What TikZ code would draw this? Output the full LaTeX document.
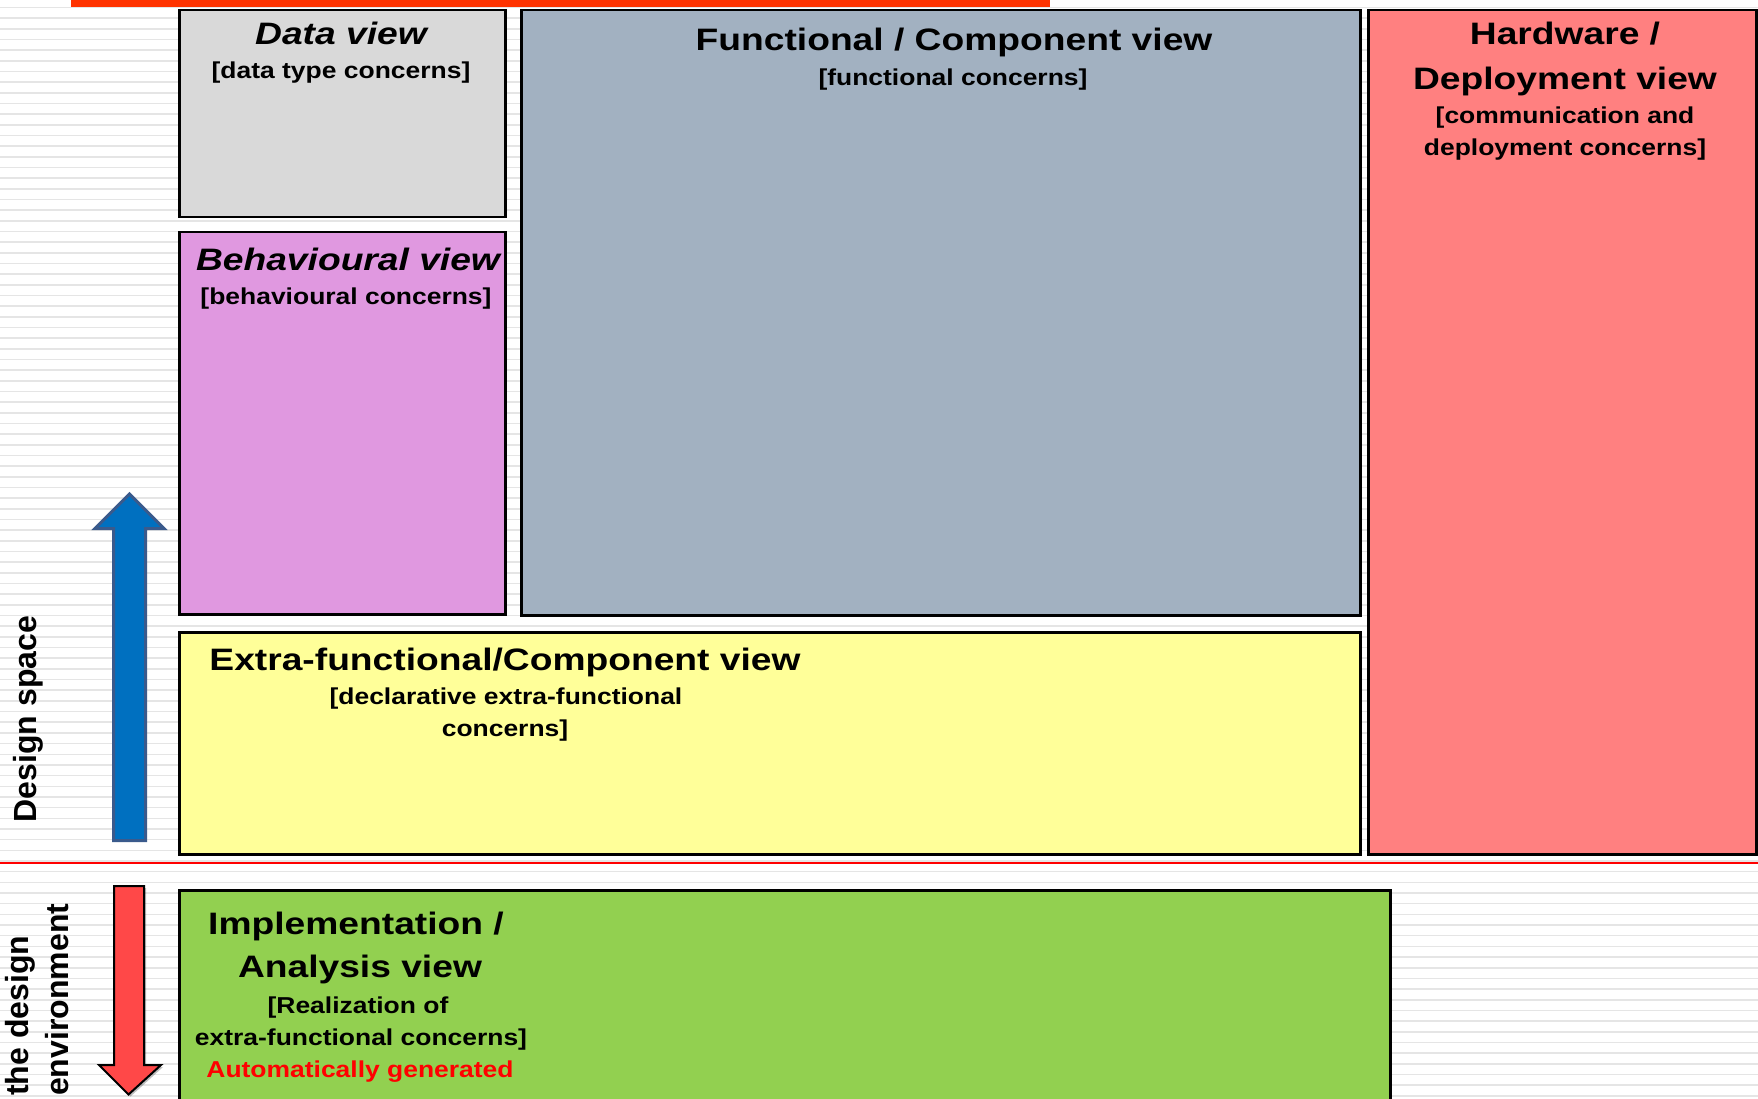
\documentclass[tikz,border=0pt]{standalone}
\usepackage{fontspec}
\setmainfont{Liberation Sans}
\newfontfamily\widesans[FakeStretch=1.2]{Liberation Sans}
\newfontfamily\subsans[FakeStretch=1.15]{Liberation Sans}
\newfontfamily\plainsans{Liberation Sans}

\definecolor{datagray}{RGB}{217,217,217}
\definecolor{behavpink}{RGB}{224,152,224}
\definecolor{funcblue}{RGB}{162,177,193}
\definecolor{hwred}{RGB}{255,128,128}
\definecolor{extrayellow}{RGB}{255,255,153}
\definecolor{implgreen}{RGB}{146,208,80}
\definecolor{topbar}{RGB}{255,51,0}
\definecolor{stripegray}{RGB}{229,229,229}
\definecolor{upblue}{RGB}{0,112,192}
\definecolor{upedge}{RGB}{58,90,140}
\definecolor{downred}{RGB}{255,72,72}

\tikzset{
  viewbox/.style={draw=black, line width=2.5pt, inner sep=0pt, anchor=north west},
  viewtitle/.style={font=\widesans\bfseries\fontsize{31}{37}\selectfont, inner sep=0pt, anchor=base},
  viewititle/.style={font=\widesans\bfseries\itshape\fontsize{31}{37}\selectfont, inner sep=0pt, anchor=base},
  viewsub/.style={font=\subsans\bfseries\fontsize{23}{27}\selectfont, inner sep=0pt, anchor=base},
  sidelabel/.style={font=\plainsans\bfseries\fontsize{32}{38}\selectfont, inner sep=0pt, rotate=90},
}

\begin{document}
\begin{tikzpicture}[x=1pt, y=-1pt]
  \useasboundingbox (0,0) rectangle (1758,1099);
  \clip (0,0) rectangle (1758,1099);

  % striped background
  \fill[white] (0,0) rectangle (1758,1099);
  \foreach \k in {0,...,102}
    \fill[stripegray] (0,{6.6+10.67*\k}) rectangle (1758,{8.2+10.67*\k});

  % accent bar at the top
  \fill[topbar] (71,0) rectangle (1050,7.5);

  % separator between design space and generated views
  \draw[red, line width=2pt] (0,863) -- (1758,863);

  % view boxes
  \node[viewbox, fill=datagray,    minimum width=326pt,  minimum height=207pt] (data)  at (178,9)   {};
  \node[viewbox, fill=behavpink,   minimum width=326pt,  minimum height=382pt] (behav) at (178,231) {};
  \node[viewbox, fill=funcblue,    minimum width=839pt,  minimum height=605pt] (func)  at (520,9)   {};
  \node[viewbox, fill=hwred,       minimum width=388pt,  minimum height=844pt] (hw)    at (1367,9)  {};
  \node[viewbox, fill=extrayellow, minimum width=1181pt, minimum height=222pt] (extra) at (178,631) {};
  \node[viewbox, fill=implgreen,   minimum width=1211pt, minimum height=260pt] (impl)  at (178,889) {};

  % view labels
  \node[viewititle] (dataT) at (341,44.5) {Data view};
  \node[viewsub]    (dataS) at (341,78.5) {[data type concerns]};

  \node[viewititle] (behavT) at (348,270) {Behavioural view};
  \node[viewsub]    (behavS) at (346,304) {[behavioural concerns]};

  \node[viewtitle] (funcT) at (954,51)  {Functional / Component view};
  \node[viewsub]   (funcS) at (953,86) {[functional concerns]};

  \node[viewtitle] (hwT1) at (1565,45)   {Hardware /};
  \node[viewtitle] (hwT2) at (1565,89.5) {Deployment view};
  \node[viewsub]   (hwS1) at (1565,124) {[communication and};
  \node[viewsub]   (hwS2) at (1565,155.5)  {deployment concerns]};

  \node[viewtitle] (extraT)  at (505,670) {Extra-functional/Component view};
  \node[viewsub]   (extraS1) at (506,704.5) {[declarative extra-functional};
  \node[viewsub]   (extraS2) at (505,736.5) {concerns]};

  \node[viewtitle] (implT1) at (356,934)  {Implementation /};
  \node[viewtitle] (implT2) at (360,977)  {Analysis view};
  \node[viewsub]   (implS1) at (358,1013) {[Realization of};
  \node[viewsub]   (implS2) at (361,1045) {extra-functional concerns]};
  \node[viewsub, text=red] (implS3) at (360,1077) {Automatically generated};

  % design-space arrow (upwards)
  \filldraw[fill=upblue, draw=upedge, line width=3pt, line join=miter]
    (113.5,840.5) -- (113.5,528.5) -- (95,528.5) -- (129.5,494)
    -- (164,528.5) -- (145.5,528.5) -- (145.5,840.5) -- cycle;

  % generated-views arrow (downwards), with a soft shadow
  \fill[black, opacity=0.25]
    (116,888) -- (116,1067) -- (101,1067) -- (130.5,1096.5)
    -- (163,1067) -- (146,1067) -- (146,888) -- cycle;
  \filldraw[fill=downred, draw=black, line width=2pt, line join=miter]
    (114,886) -- (114,1065) -- (99,1065) -- (128.5,1094.5)
    -- (161,1065) -- (144,1065) -- (144,886) -- cycle;

  % side labels
  \node[sidelabel, anchor=base] (space) at (36,719) {Design space};
  \node[sidelabel, anchor=base west] (envA) at (28,1096) {the design};
  \node[sidelabel, anchor=base west] (envB) at (68,1096) {environment};
\end{tikzpicture}
\end{document}
